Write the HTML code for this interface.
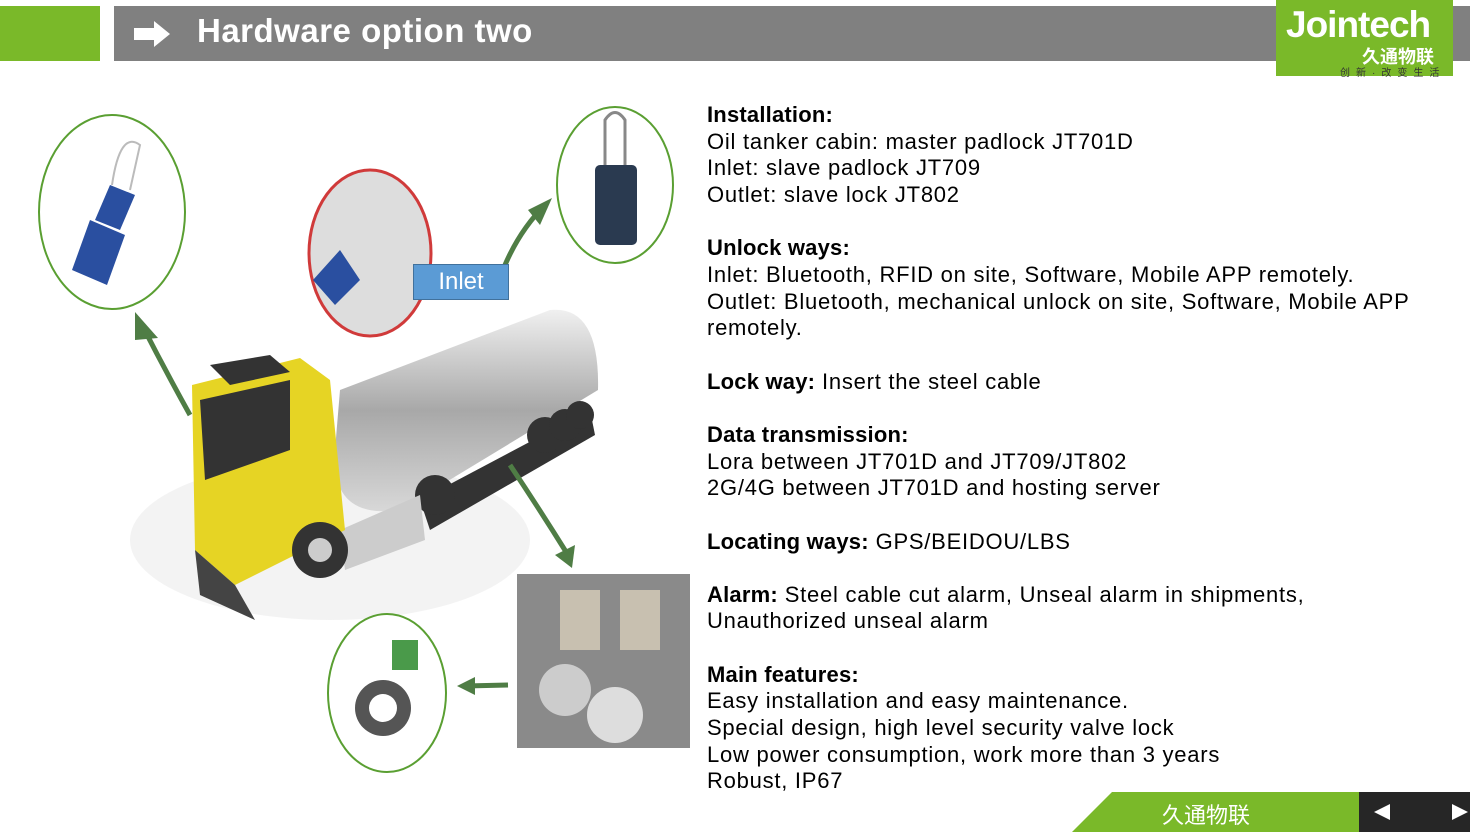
<!DOCTYPE html>
<html><head><meta charset="utf-8"><style>
body{margin:0;width:1470px;height:832px;background:#fff;position:relative;overflow:hidden;font-family:"Liberation Sans","Noto Sans CJK SC",sans-serif}
.t{position:absolute;left:707px;top:102px;font-size:22px;line-height:26.65px;color:#000;white-space:nowrap;letter-spacing:0.75px}
b{font-weight:bold;letter-spacing:0.2px}
</style></head><body>
<div style="position:absolute;left:0;top:6px;width:100px;height:55px;background:#7ab929"></div>
<div style="position:absolute;left:114px;top:6px;width:1356px;height:55px;background:#808080"></div>
<svg style="position:absolute;left:132px;top:18px" width="40" height="32"><polygon points="2,10 22,10 22,3 38,16 22,29 22,22 2,22" fill="#fff"/></svg>
<div style="position:absolute;left:197px;top:12px;font-size:33px;font-weight:bold;color:#fff;letter-spacing:0.5px">Hardware option two</div>
<div style="position:absolute;left:1276px;top:0;width:177px;height:76px;background:#7ab929"></div>
<div style="position:absolute;left:1286px;top:4px;font-size:37px;font-weight:bold;color:#fff;letter-spacing:-1px">Jointech</div>
<div style="position:absolute;left:1362px;top:43px;font-size:18px;font-weight:bold;color:#fff">久通物联</div>
<div style="position:absolute;left:1340px;top:64px;font-size:10px;color:#333;letter-spacing:6px">创新·改变生活</div>

<svg style="position:absolute;left:0;top:90px" width="700" height="690">
<defs><linearGradient id="tk" x1="0" y1="0" x2="0" y2="1"><stop offset="0" stop-color="#f0f0f0"/><stop offset=".5" stop-color="#a8a8a8"/><stop offset="1" stop-color="#d8d8d8"/></linearGradient></defs>
<ellipse cx="330" cy="450" rx="200" ry="80" fill="#eee" opacity=".7"/>
<path d="M340,300 L550,220 Q600,215 598,300 L400,420 Q330,430 335,360 Z" fill="url(#tk)"/>
<path d="M420,410 L590,320 L595,345 L430,440 Z" fill="#333"/>
<circle cx="545" cy="345" r="18" fill="#333"/><circle cx="565" cy="335" r="16" fill="#333"/><circle cx="580" cy="325" r="14" fill="#333"/>
<circle cx="435" cy="405" r="20" fill="#333"/>
<path d="M340,440 L420,405 L425,450 L345,480 Z" fill="#ccc"/>
<path d="M192,295 L300,268 L330,290 L345,440 L235,495 L195,460 Z" fill="#e6d424"/>
<path d="M200,310 L290,290 L290,360 L205,390 Z" fill="#333"/>
<path d="M195,460 L235,495 L255,530 L200,505 Z" fill="#444"/>
<path d="M210,275 L270,265 L290,282 L230,295 Z" fill="#333"/>
<circle cx="320" cy="460" r="28" fill="#333"/><circle cx="320" cy="460" r="12" fill="#ccc"/>
<g stroke="#4f7d45" stroke-width="5" fill="none"><path d="M190,325 Q165,280 142,235"/><path d="M505,175 Q520,140 545,115"/><path d="M510,375 Q540,420 568,465"/><path d="M508,595 L465,596"/></g>
<g fill="#4f7d45"><polygon points="135,222 158,248 135,250"/><polygon points="552,108 540,135 528,120"/><polygon points="572,478 555,465 575,455"/><polygon points="457,596 475,587 475,605"/></g>
<ellipse cx="112" cy="122" rx="73" ry="97" fill="#fff" stroke="#5a9f32" stroke-width="2"/>
<polygon points="72,180 90,130 125,145 107,195" fill="#2a4fa0"/><polygon points="95,130 110,95 135,105 120,140" fill="#2a4fa0"/>
<path d="M112,95 Q120,40 140,55 L130,100" stroke="#bbb" stroke-width="2" fill="none"/>
<ellipse cx="370" cy="163" rx="61" ry="83" fill="#ddd" stroke="#d03a3a" stroke-width="3"/>
<polygon points="313,190 340,160 360,190 335,215" fill="#2a4fa0"/>
<ellipse cx="615" cy="95" rx="58" ry="78" fill="#fff" stroke="#5a9f32" stroke-width="2"/>
<rect x="595" y="75" width="42" height="80" rx="5" fill="#2a3a50"/><path d="M605,75 V30 Q615,15 625,30 V75" stroke="#888" stroke-width="3" fill="none"/>
<ellipse cx="387" cy="603" rx="59" ry="79" fill="#fff" stroke="#5a9f32" stroke-width="2"/>
<circle cx="383" cy="618" r="28" fill="#555"/><circle cx="383" cy="618" r="14" fill="#fff"/><rect x="392" y="550" width="26" height="30" fill="#4a9a4a"/>
<rect x="517" y="484" width="173" height="174" fill="#8a8a8a"/>
<rect x="560" y="500" width="40" height="60" fill="#c8c0b0"/><rect x="620" y="500" width="40" height="60" fill="#c8c0b0"/>
<circle cx="565" cy="600" r="26" fill="#ccc"/><circle cx="615" cy="625" r="28" fill="#ddd"/>
</svg>
<div style="position:absolute;left:413px;top:264px;width:94px;height:34px;background:#5b9bd5;border:1px solid #41719c;color:#fff;font-size:24px;text-align:center;line-height:34px">Inlet</div>

<div class="t"><b>Installation:</b><br>Oil tanker cabin: master padlock JT701D<br>Inlet: slave padlock JT709<br>Outlet: slave lock JT802<br><br><b>Unlock ways:</b><br>Inlet: Bluetooth, RFID on site, Software, Mobile APP remotely.<br>Outlet: Bluetooth, mechanical unlock on site, Software, Mobile APP<br>remotely.<br><br><b>Lock way:</b> Insert the steel cable<br><br><b>Data transmission:</b><br>Lora between JT701D and JT709/JT802<br>2G/4G between JT701D and hosting server<br><br><b>Locating ways:</b> GPS/BEIDOU/LBS<br><br><b>Alarm:</b> Steel cable cut alarm, Unseal alarm in shipments,<br>Unauthorized unseal alarm<br><br><b>Main features:</b><br>Easy installation and easy maintenance.<br>Special design, high level security valve lock<br>Low power consumption, work more than 3 years<br>Robust, IP67</div>

<svg style="position:absolute;left:1072px;top:792px" width="398" height="40"><polygon points="40,0 287,0 287,40 0,40" fill="#7ab929"/><rect x="287" y="0" width="111" height="40" fill="#262626"/><polygon points="302,20 318,12 318,28" fill="#fff"/><polygon points="396,20 380,12 380,28" fill="#fff"/></svg>
<div style="position:absolute;left:1162px;top:798px;font-size:22px;color:#fff">久通物联</div>
</body></html>
